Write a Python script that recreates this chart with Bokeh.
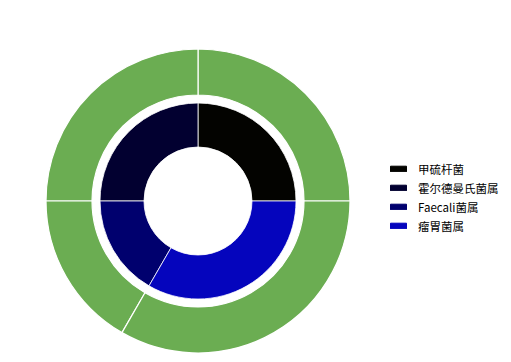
from bokeh.plotting import figure
from bokeh.models import Range1d, Legend, LegendItem, ColumnDataSource
from bokeh.embed import file_html
from bokeh.resources import INLINE
import math

categories = ["甲硫杆菌", "霍尔德曼氏菌属", "Faecali菌属", "瘤胃菌属"]
values = [3, 3, 2, 4]
inner_colors = ["#030300", "#020030", "#00006e", "#0505bd"]
outer_color = "#6bad52"

total = sum(values)
starts, ends = [], []
acc = 0.0
for v in values:
    starts.append(2 * math.pi * acc / total)
    acc += v
    ends.append(2 * math.pi * acc / total)

W, H = 511, 362
cx, cy = 197.5, H - 200.5

p = figure(width=W, height=H, output_backend="svg", toolbar_location=None,
           x_range=Range1d(0, W), y_range=Range1d(0, H), min_border=0)
p.axis.visible = False
p.grid.visible = False
p.outline_line_color = None
p.background_fill_color = "white"

src = ColumnDataSource(dict(cat=categories, val=values, start=starts, end=ends,
                            color=inner_colors, x=[cx] * 4, y=[cy] * 4))

p.annular_wedge(x="x", y="y", inner_radius=106, outer_radius=152,
                start_angle="start", end_angle="end", source=src,
                fill_color=outer_color, line_color="white", line_width=1.2)
p.annular_wedge(x="x", y="y", inner_radius=54, outer_radius=98,
                start_angle="start", end_angle="end", source=src,
                fill_color="color", line_color="white", line_width=0.8)

items = []
for c, col in zip(categories, inner_colors):
    r = p.rect(x=[float("nan")], y=[float("nan")], width=1, height=1,
               fill_color=col, line_color=col)
    items.append(LegendItem(label=c, renderers=[r]))

legend = Legend(items=items, location=(388, 127), orientation="vertical",
                border_line_color=None, background_fill_alpha=0,
                padding=0, margin=0, spacing=0,
                glyph_width=20, glyph_height=7, label_height=19,
                label_standoff=10, label_text_font_size="11.5px",
                label_text_font="Noto Sans CJK SC", label_text_color="#000000")
p.add_layout(legend, "center")

open("out.html", "w").write(file_html(p, INLINE))
